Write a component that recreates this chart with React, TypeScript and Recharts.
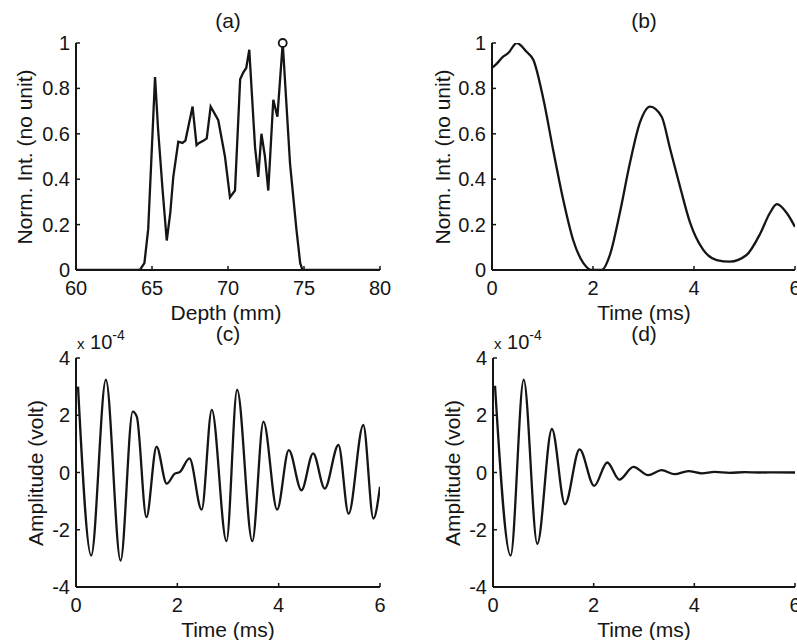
import React from "react";
import { LineChart, Line, XAxis, YAxis, ReferenceDot } from "recharts";

// (a) normalized intensity vs depth
const DEPTH_MM = [
  60, 64.2, 64.5, 64.75, 65.0, 65.2, 65.4, 65.7, 65.97, 66.2, 66.4, 66.73, 67.0,
  67.2, 67.67, 67.93, 68.1, 68.4, 68.6, 68.86, 69.36, 69.8, 70.13, 70.46, 70.8,
  71.0, 71.2, 71.4, 71.78, 71.99, 72.2, 72.43, 72.65, 72.98, 73.25, 73.6, 74.08,
  74.5, 74.75, 74.9, 80,
];
const DEPTH_INT = [
  0, 0, 0.03, 0.18, 0.55, 0.85, 0.62, 0.35, 0.13, 0.25, 0.41, 0.565, 0.56, 0.57,
  0.72, 0.55, 0.56, 0.57, 0.58, 0.72, 0.66, 0.5, 0.32, 0.35, 0.84, 0.87, 0.89,
  0.97, 0.54, 0.41, 0.6, 0.5, 0.35, 0.75, 0.675, 1.0, 0.47, 0.18, 0.03, 0, 0,
];
const PEAK_DEPTH = 73.6;
const PEAK_INT = 1.0;

// (b) normalized intensity vs time
const TIME_B = [
  0, 0.1, 0.22, 0.32, 0.49, 0.69, 0.82, 1.02, 1.21, 1.41, 1.61, 1.81, 1.97, 2.17,
  2.34, 2.53, 2.73, 2.93, 3.13, 3.36, 3.52, 3.72, 3.92, 4.18, 4.45, 4.71, 5.04,
  5.31, 5.5, 5.64, 5.84, 6.0,
];
const INT_B = [
  0.89, 0.91, 0.94, 0.955, 1.0, 0.96, 0.925, 0.75, 0.53, 0.31, 0.13, 0.03, 0.0,
  0.0, 0.07, 0.25, 0.47, 0.65, 0.72, 0.675, 0.54, 0.37, 0.21, 0.09, 0.044, 0.037,
  0.066, 0.16, 0.25, 0.29, 0.25, 0.19,
];

// (c) amplitude (x 1e-4 volt) vs time
const TIME_C = [
  0.04, 0.3, 0.59, 0.88, 1.12, 1.2, 1.39, 1.59, 1.79, 1.95, 2.05, 2.24, 2.48,
  2.68, 2.97, 3.18, 3.48, 3.7, 3.97, 4.2, 4.45, 4.68, 4.91, 5.18, 5.38, 5.67,
  5.87, 6.0,
];
const AMP_C = [
  3.0, -2.9, 3.24, -3.08, 2.13, 1.95, -1.56, 0.9, -0.39, -0.04, 0.02, 0.49, -1.3,
  2.19, -2.4, 2.89, -2.4, 1.78, -1.3, 0.78, -0.62, 0.67, -0.56, 0.96, -1.44,
  1.66, -1.61, -0.5,
];

// (d) amplitude (x 1e-4 volt) vs time, damped
const TIME_D = [
  0.04, 0.35, 0.61, 0.88, 1.17, 1.43, 1.72, 2.01, 2.27, 2.51, 2.79, 3.08, 3.35,
  3.61, 3.88, 4.15, 4.4, 4.7, 5.0, 5.3, 5.6, 6.0,
];
const AMP_D = [
  3.03, -2.9, 3.24, -2.49, 1.52, -1.11, 0.81, -0.47, 0.35, -0.25, 0.2, -0.09,
  0.08, -0.06, 0.05, -0.03, 0.02, -0.01, 0.01, 0, 0.005, 0,
];

const DEPTH_TICKS = [60, 65, 70, 75, 80];
const TIME_TICKS = [0, 2, 4, 6];
const NORM_TICKS = [0, 0.2, 0.4, 0.6, 0.8, 1];
const AMP_TICKS = [-4, -2, 0, 2, 4];

const zip = (xs: number[], ys: number[]) => xs.map((x, i) => ({ x, y: ys[i] }));

const INK = "#151515";
const FONT = "'Liberation Sans', Arial, Helvetica, sans-serif";

function BottomTick(props: any) {
  const { x, y, payload } = props;
  return (
    <g>
      <line x1={x} x2={x} y1={y} y2={y - 4} stroke={INK} strokeWidth={1.5} />
      <text x={x} y={y + 25} textAnchor="middle" fontSize={20} fill={INK} fontFamily={FONT}>
        {String(payload.value)}
      </text>
    </g>
  );
}

function LeftTick(props: any) {
  const { x, y, payload } = props;
  return (
    <g>
      <line x1={x} x2={x + 4} y1={y} y2={y} stroke={INK} strokeWidth={1.5} />
      <text x={x - 6} y={y + 7} textAnchor="end" fontSize={20} fill={INK} fontFamily={FONT}>
        {String(payload.value)}
      </text>
    </g>
  );
}

function Panel(props: {
  left: number;
  top: number;
  width: number;
  height: number;
  margin: { top: number; right: number; left: number; bottom: number };
  yWidth: number;
  xHeight: number;
  data: { x: number; y: number }[];
  xDomain: [number, number];
  xTicks: number[];
  yDomain: [number, number];
  yTicks: number[];
  curve: "linear" | "monotone";
  children?: React.ReactNode;
}) {
  return (
    <div style={{ position: "absolute", left: props.left, top: props.top }}>
      <LineChart width={props.width} height={props.height} data={props.data} margin={props.margin}>
        <XAxis
          dataKey="x"
          type="number"
          domain={props.xDomain}
          ticks={props.xTicks}
          interval={0}
          height={props.xHeight}
          tickSize={0}
          tickMargin={0}
          tick={BottomTick}
          axisLine={{ stroke: INK, strokeWidth: 2 }}
          tickLine={false}
          allowDataOverflow
        />
        <YAxis
          type="number"
          domain={props.yDomain}
          ticks={props.yTicks}
          interval={0}
          width={props.yWidth}
          tickSize={0}
          tickMargin={0}
          tick={LeftTick}
          axisLine={{ stroke: INK, strokeWidth: 2 }}
          tickLine={false}
          allowDataOverflow
        />
        <Line
          dataKey="y"
          type={props.curve}
          stroke={INK}
          strokeWidth={2.3}
          dot={false}
          isAnimationActive={false}
        />
        {props.children}
      </LineChart>
    </div>
  );
}

function Txt(props: { x: number; y: number; size?: number; rotate?: boolean; children: React.ReactNode }) {
  return (
    <div
      style={{
        position: "absolute",
        left: props.x,
        top: props.y,
        transform: `translate(-50%, -50%)${props.rotate ? " rotate(-90deg)" : ""}`,
        fontSize: props.size ?? 21,
        lineHeight: 1,
        whiteSpace: "nowrap",
        color: INK,
      }}
    >
      {props.children}
    </div>
  );
}

function Exponent(props: { x: number; y: number }) {
  return (
    <div style={{ position: "absolute", left: props.x, top: props.y, whiteSpace: "nowrap", color: INK, lineHeight: 1 }}>
      <span style={{ fontSize: 15 }}>x</span>
      <span style={{ fontSize: 20 }}> 10</span>
      <span style={{ fontSize: 14, position: "relative", top: -9 }}>-4</span>
    </div>
  );
}

export default function App() {
  return (
    <div
      style={{
        position: "absolute",
        left: 0,
        top: 0,
        width: 797,
        height: 640,
        overflow: "hidden",
        background: "#fff",
        fontFamily: FONT,
      }}
    >
      <Panel
        left={0}
        top={0}
        width={400}
        height={310}
        margin={{ top: 43, right: 20, left: 0, bottom: 0 }}
        yWidth={76}
        xHeight={40}
        data={zip(DEPTH_MM, DEPTH_INT)}
        xDomain={[60, 80]}
        xTicks={DEPTH_TICKS}
        yDomain={[0, 1]}
        yTicks={NORM_TICKS}
        curve="linear"
      >
        <ReferenceDot
          x={PEAK_DEPTH}
          y={PEAK_INT}
          r={4}
          fill="#fff"
          stroke={INK}
          strokeWidth={1.8}
          ifOverflow="visible"
        />
      </Panel>
      <Panel
        left={400}
        top={0}
        width={400}
        height={310}
        margin={{ top: 43, right: 5, left: 0, bottom: 0 }}
        yWidth={92}
        xHeight={40}
        data={zip(TIME_B, INT_B)}
        xDomain={[0, 6]}
        xTicks={TIME_TICKS}
        yDomain={[0, 1]}
        yTicks={NORM_TICKS}
        curve="monotone"
      />
      <Panel
        left={0}
        top={310}
        width={400}
        height={330}
        margin={{ top: 48, right: 20, left: 0, bottom: 0 }}
        yWidth={76}
        xHeight={53}
        data={zip(TIME_C, AMP_C)}
        xDomain={[0, 6]}
        xTicks={TIME_TICKS}
        yDomain={[-4, 4]}
        yTicks={AMP_TICKS}
        curve="monotone"
      />
      <Panel
        left={400}
        top={310}
        width={400}
        height={330}
        margin={{ top: 48, right: 5, left: 0, bottom: 0 }}
        yWidth={93}
        xHeight={53}
        data={zip(TIME_D, AMP_D)}
        xDomain={[0, 6]}
        xTicks={TIME_TICKS}
        yDomain={[-4, 4]}
        yTicks={AMP_TICKS}
        curve="monotone"
      />

      <Txt x={228} y={20}>(a)</Txt>
      <Txt x={644} y={20}>(b)</Txt>
      <Txt x={228} y={333}>(c)</Txt>
      <Txt x={644} y={333}>(d)</Txt>

      <Txt x={226} y={312}>Depth (mm)</Txt>
      <Txt x={644} y={312}>Time (ms)</Txt>
      <Txt x={228} y={629}>Time (ms)</Txt>
      <Txt x={644} y={629}>Time (ms)</Txt>

      <Txt x={24} y={157} rotate>Norm. Int. (no unit)</Txt>
      <Txt x={442} y={157} rotate>Norm. Int. (no unit)</Txt>
      <Txt x={35} y={473} rotate>Amplitude (volt)</Txt>
      <Txt x={452} y={473} rotate>Amplitude (volt)</Txt>

      <Exponent x={77} y={332} />
      <Exponent x={494} y={332} />
    </div>
  );
}
